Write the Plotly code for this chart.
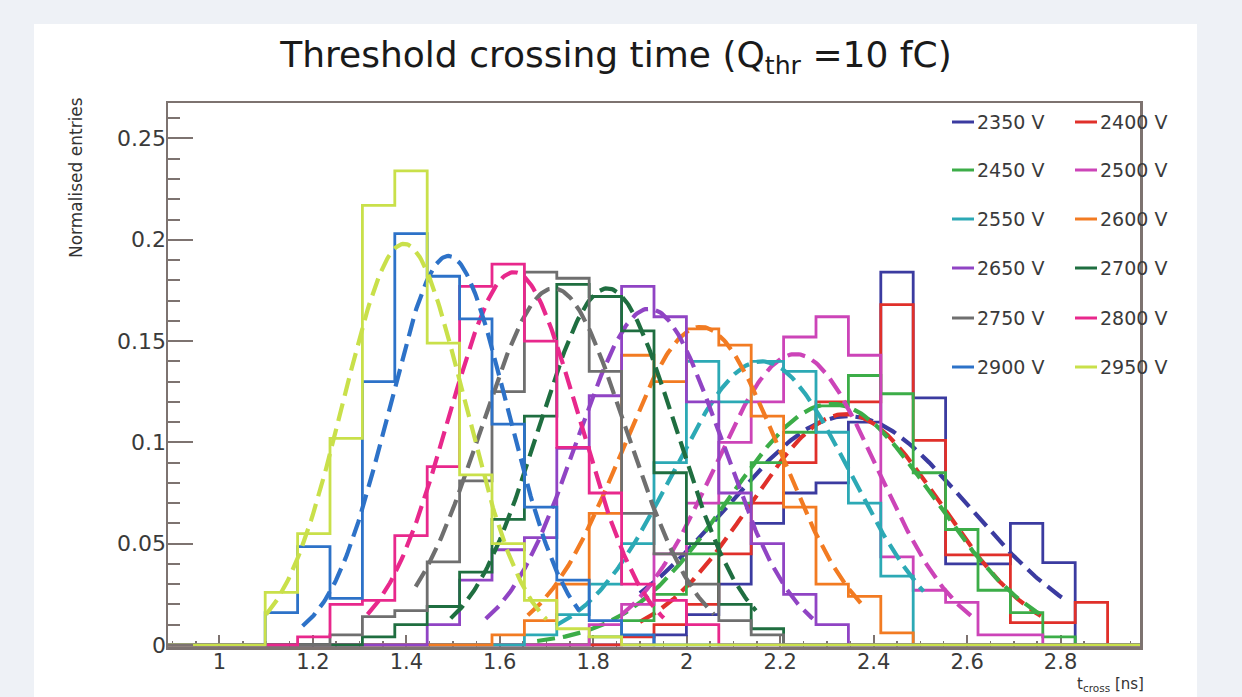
import numpy as np
import plotly.graph_objects as go

# ---------------- data ----------------
x_min = 0.89
x_max = 2.97
n_bins = 30

voltages = ["2350 V", "2400 V", "2450 V", "2500 V", "2550 V", "2600 V",
            "2650 V", "2700 V", "2750 V", "2800 V", "2900 V", "2950 V"]

colors = ["#3b3ba0", "#e0302a", "#3cad48", "#cc44b8", "#2ca9b5", "#f27b22",
          "#9044c4", "#1f6e40", "#6f6f6f", "#e8288c", "#2d72c8", "#c9e04a"]

h2350 = [0, 0, 0, 0, 0, 0, 0, 0, 0, 0, 0, 0, 0, 0, 0, 0.005, 0.015, 0.03, 0.06, 0.075,
         0.08, 0.11, 0.184, 0.122, 0.04, 0.04, 0.06, 0.0406, 0, 0]
h2400 = [0, 0, 0, 0, 0, 0, 0, 0, 0, 0, 0, 0, 0, 0, 0.004, 0.01, 0.02, 0.045, 0.07, 0.09,
         0.12, 0.12, 0.168, 0.101, 0.0445, 0.0445, 0.011, 0.011, 0.021, 0]
h2450 = [0, 0, 0, 0, 0, 0, 0, 0, 0, 0, 0, 0, 0, 0.004, 0.012, 0.025, 0.045, 0.07, 0.09, 0.105,
         0.118, 0.133, 0.124, 0.085, 0.057, 0.027, 0.016, 0.004, 0, 0]
h2500 = [0, 0, 0, 0, 0, 0, 0, 0, 0, 0, 0, 0, 0, 0.01, 0.02, 0.045, 0.07, 0.1, 0.12, 0.152,
         0.162, 0.143, 0.0435, 0.027, 0.021, 0.005, 0.005, 0, 0, 0]
h2550 = [0, 0, 0, 0, 0, 0, 0, 0, 0, 0, 0, 0.005, 0.015, 0.03, 0.05, 0.09, 0.14, 0.12, 0.14, 0.135,
         0.105, 0.07, 0.034, 0, 0, 0, 0, 0, 0, 0]
h2600 = [0, 0, 0, 0, 0, 0, 0, 0, 0, 0, 0.005, 0.012, 0.03, 0.065, 0.143, 0.13, 0.156, 0.148, 0.113, 0.068,
         0.03, 0.024, 0.006, 0, 0, 0, 0, 0, 0, 0]
h2650 = [0, 0, 0, 0, 0, 0, 0, 0, 0.01, 0.032, 0.047, 0.053, 0.097, 0.123, 0.177, 0.162, 0.12, 0.075, 0.05, 0.025,
         0.01, 0, 0, 0, 0, 0, 0, 0, 0, 0]
h2700 = [0, 0, 0, 0, 0, 0, 0.004, 0.01, 0.019, 0.036, 0.062, 0.113, 0.178, 0.172, 0.155, 0.085, 0.05, 0.02, 0.008, 0,
         0, 0, 0, 0, 0, 0, 0, 0, 0, 0]
h2750 = [0, 0, 0, 0, 0, 0.005, 0.014, 0.017, 0.041, 0.081, 0.125, 0.184, 0.181, 0.135, 0.065, 0.045, 0.03, 0.012, 0.005, 0,
         0, 0, 0, 0, 0, 0, 0, 0, 0, 0]
h2800 = [0, 0, 0, 0, 0.004, 0.02, 0.022, 0.054, 0.088, 0.177, 0.188, 0.15, 0.0975, 0.075, 0.03, 0.022, 0.01, 0, 0, 0,
         0, 0, 0, 0, 0, 0, 0, 0, 0, 0]
h2900 = [0, 0, 0, 0.016, 0.0485, 0.023, 0.13, 0.203, 0.182, 0.161, 0.109, 0.068, 0.032, 0.012, 0.005, 0, 0, 0, 0, 0,
         0, 0, 0, 0, 0, 0, 0, 0, 0, 0]
h2950 = [0, 0, 0, 0.026, 0.055, 0.102, 0.217, 0.234, 0.149, 0.084, 0.05, 0.022, 0.008, 0.004, 0, 0, 0, 0, 0, 0,
         0, 0, 0, 0, 0, 0, 0, 0, 0, 0]

hists = [h2350, h2400, h2450, h2500, h2550, h2600, h2650, h2700, h2750, h2800, h2900, h2950]

# Gaussian fit parameters
fit_amp = [0.113, 0.114, 0.119, 0.1436, 0.140, 0.157, 0.166, 0.176, 0.176, 0.184, 0.192, 0.198]
fit_mean = [2.345, 2.340, 2.310, 2.233, 2.160, 2.030, 1.920, 1.830, 1.715, 1.630, 1.490, 1.395]
fit_sigma = [0.258, 0.205, 0.220, 0.175, 0.190, 0.170, 0.155, 0.147, 0.155, 0.140, 0.127, 0.130]
fit_lo = [1.90, 1.90, 1.68, 1.86, 1.72, 1.66, 1.57, 1.495, 1.42, 1.317, 1.178, 1.10]
fit_hi = [2.805, 2.758, 2.758, 2.608, 2.507, 2.38, 2.27, 2.148, 2.058, 1.951, 1.77, 1.70]

y_ticks = [0, 0.05, 0.1, 0.15, 0.2, 0.25]
x_ticks = [1, 1.2, 1.4, 1.6, 1.8, 2, 2.2, 2.4, 2.6, 2.8]

# ---------------- figure ----------------
W, H = 1242, 697
ML, MR, MT, MB = 168, 102, 103, 50
PW, PH = W - ML - MR, H - MT - MB

edges = np.linspace(x_min, x_max, n_bins + 1)
fig = go.Figure()

for i, name in enumerate(voltages):
    vals = hists[i]
    xs = [edges[0]] + list(edges[:-1]) + [edges[-1]]
    ys = [0] + list(vals) + [vals[-1]]
    fig.add_trace(go.Scatter(x=xs, y=ys, mode="lines", line_shape="hv",
                             line=dict(color=colors[i], width=2.8),
                             name=name, showlegend=False, hoverinfo="skip"))
    xf = np.linspace(fit_lo[i], fit_hi[i], 200)
    yf = fit_amp[i] * np.exp(-0.5 * ((xf - fit_mean[i]) / fit_sigma[i]) ** 2)
    fig.add_trace(go.Scatter(x=xf, y=yf, mode="lines",
                             line=dict(color=colors[i], width=4.2, dash="18px,8px"),
                             showlegend=False, hoverinfo="skip"))

frame = "#7d7370"
font_main = "DejaVu Sans"

def px_to_paper_x(px):
    return (px - ML) / PW

def px_to_paper_y(py):
    return (H - MB - py) / PH

shapes = [
    # white card behind the figure
    dict(type="rect", xref="paper", yref="paper", layer="below",
         x0=px_to_paper_x(34), x1=px_to_paper_x(1197),
         y0=px_to_paper_y(720), y1=px_to_paper_y(24),
         fillcolor="white", line=dict(width=0)),
]
annotations = []

# legend, 2 columns x 6 rows
leg_col_x = [952, 1075]
leg_row_y = [122, 170, 219, 268, 318, 367]
for i, name in enumerate(voltages):
    r, c = i // 2, i % 2
    lx = leg_col_x[c]
    ly = leg_row_y[r]
    shapes.append(dict(type="line", xref="paper", yref="paper",
                       x0=px_to_paper_x(lx), x1=px_to_paper_x(lx + 22),
                       y0=px_to_paper_y(ly), y1=px_to_paper_y(ly),
                       line=dict(color=colors[i], width=3)))
    annotations.append(dict(xref="paper", yref="paper", x=px_to_paper_x(lx + 23),
                            y=px_to_paper_y(ly), text=name, showarrow=False,
                            xanchor="left", yanchor="middle",
                            font=dict(family=font_main, size=19, color="#3a3a3a")))

annotations.append(dict(xref="paper", yref="paper", x=px_to_paper_x(76),
                        y=px_to_paper_y(178), text="Normalised entries", textangle=-90,
                        showarrow=False, xanchor="center", yanchor="middle",
                        font=dict(family=font_main, size=17, color="#333333")))
annotations.append(dict(xref="paper", yref="paper", x=px_to_paper_x(1146),
                        y=px_to_paper_y(684), text="t<sub>cross</sub> [ns]",
                        showarrow=False, xanchor="right", yanchor="middle",
                        font=dict(family=font_main, size=15, color="#333333")))

fig.update_layout(
    width=W, height=H,
    margin=dict(l=ML, r=MR, t=MT, b=MB, autoexpand=False),
    paper_bgcolor="#eef1f6",
    plot_bgcolor="white",
    title=dict(text="Threshold crossing time (Q<sub>thr</sub> =10 fC)",
               x=616 / W, xanchor="center", xref="container",
               y=1 - 54 / H, yanchor="middle", yref="container",
               font=dict(family=font_main, size=36, color="#1a1a1a")),
    shapes=shapes,
    annotations=annotations,
    showlegend=False,
)

fig.update_xaxes(range=[x_min, x_max], showgrid=False, zeroline=False,
                 showline=True, mirror=True, linecolor=frame, linewidth=2.5,
                 layer="below traces",
                 tickmode="array", tickvals=x_ticks, ticktext=[str(v) for v in x_ticks],
                 ticks="inside", ticklen=12, tickwidth=2, tickcolor=frame,
                 ticklabelstandoff=-6,
                 minor=dict(ticks="inside", ticklen=6, dtick=0.05, tick0=0,
                            tickcolor=frame, tickwidth=1.5),
                 tickfont=dict(family=font_main, size=21, color="#3a3a3a"))
fig.update_yaxes(range=[-0.001, 0.2675], showgrid=False, zeroline=False,
                 showline=True, mirror=True, linecolor=frame, linewidth=2.5,
                 tickmode="array", tickvals=y_ticks, ticktext=["0", "0.05", "0.1", "0.15", "0.2", "0.25"],
                 ticks="inside", ticklen=25, tickwidth=2, tickcolor=frame,
                 ticklabelstandoff=-5,
                 minor=dict(ticks="inside", ticklen=12, dtick=0.01, tick0=0,
                            tickcolor=frame, tickwidth=2),
                 tickfont=dict(family=font_main, size=22, color="#3a3a3a"))

fig.write_html("out.html",
               config={"displayModeBar": False, "staticPlot": True},
               post_script="document.body.style.margin='0px';"
                           "document.body.style.background='#eef1f6';")
